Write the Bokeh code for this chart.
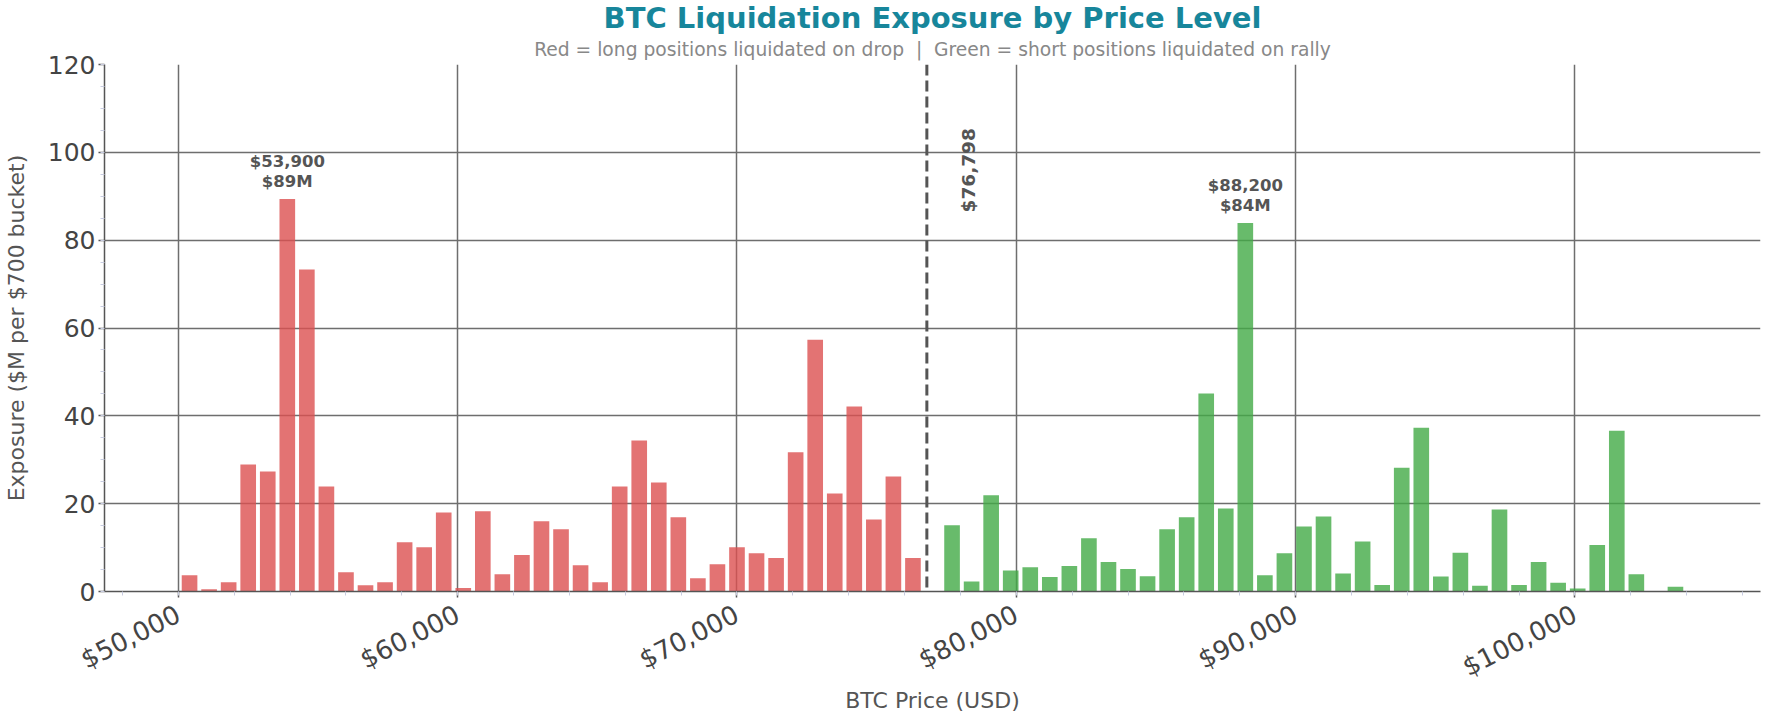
import math

from bokeh.core.properties import value
from bokeh.embed import file_html
from bokeh.models import (ColumnDataSource, Label, NumeralTickFormatter, Range1d,
                          SingleIntervalTicker, Span, Title)
from bokeh.plotting import figure
from bokeh.resources import INLINE

# Long liquidations below the current price (bucket centre, $M)
long_prices = [50400, 51100, 51800, 52500, 53200, 53900, 54600, 55300, 56000, 56700,
               57400, 58100, 58800, 59500, 60200, 60900, 61600, 62300, 63000, 63700,
               64400, 65100, 65800, 66500, 67200, 67900, 68600, 69300, 70000, 70700,
               71400, 72100, 72800, 73500, 74200, 74900, 75600, 76300]
long_values = [3.7, 0.5, 2.1, 28.9, 27.3, 89.4, 73.3, 23.9, 4.4, 1.4,
               2.1, 11.2, 10.1, 18.0, 0.8, 18.3, 3.9, 8.3, 16.0, 14.2,
               6.0, 2.1, 23.9, 34.4, 24.8, 16.9, 3.0, 6.2, 10.1, 8.7,
               7.6, 31.7, 57.3, 22.3, 42.1, 16.4, 26.2, 7.6]

# Short liquidations above the current price
short_prices = [77700, 78400, 79100, 79800, 80500, 81200, 81900, 82600, 83300, 84000,
                84700, 85400, 86100, 86800, 87500, 88200, 88900, 89600, 90300, 91000,
                91700, 92400, 93100, 93800, 94500, 95200, 95900, 96600, 97300, 98000,
                98700, 99400, 100100, 100800, 101500, 102200, 103600]
short_values = [15.1, 2.3, 21.9, 4.8, 5.5, 3.3, 5.8, 12.1, 6.7, 5.1,
                3.5, 14.2, 16.9, 45.1, 18.9, 83.9, 3.7, 8.7, 14.8, 17.1,
                4.1, 11.4, 1.5, 28.2, 37.3, 3.4, 8.8, 1.3, 18.7, 1.5,
                6.7, 2.0, 0.7, 10.6, 36.6, 3.9, 1.1]

current_price = 76798
bucket = 700

FONT = "DejaVu Sans"
TEXT = "#555555"

p = figure(
    frame_width=1656, frame_height=527,
    x_range=Range1d(47355, 106645), y_range=Range1d(0, 120),
    title="BTC Liquidation Exposure by Price Level",
    output_backend="svg", toolbar_location=None,
)
p.title.align = "center"
p.title.text_font = FONT
p.title.text_font_size = "29px"
p.title.text_color = "#17869b"
p.title.standoff = -4
p.add_layout(Title(text="Red = long positions liquidated on drop \u00a0|\u00a0 Green = short positions liquidated on rally",
                   align="center", text_font=FONT, text_font_size="18.7px",
                   text_font_style="normal", text_color="#888888", standoff=9), "above")

p.outline_line_color = None
p.background_fill_color = "white"
p.border_fill_color = "white"

p.vbar(x="x", top="top", width=bucket * 0.8,
       source=ColumnDataSource(dict(x=long_prices, top=long_values)),
       fill_color="#dc5050", fill_alpha=0.8, line_color=None)
p.vbar(x="x", top="top", width=bucket * 0.8,
       source=ColumnDataSource(dict(x=short_prices, top=short_values)),
       fill_color="#42aa46", fill_alpha=0.8, line_color=None)

# current price marker
p.add_layout(Span(location=current_price, dimension="height", line_color=TEXT,
                  line_width=3, line_dash="11 5"))
p.add_layout(Label(x=current_price + 1500, y=105.5, text=f"${current_price:,}",
                   angle=math.pi / 2, text_align="right", text_baseline="middle",
                   text_font=FONT, text_font_size="18.5px", text_font_style="bold",
                   text_color=TEXT))

# peak annotations
for prices, vals in [(long_prices, long_values), (short_prices, short_values)]:
    i = vals.index(max(vals))
    p.add_layout(Label(x=prices[i], y=vals[i], y_offset=8,
                       text=f"${prices[i]:,}\n${vals[i]:.0f}M",
                       text_align="center", text_baseline="bottom",
                       text_font=FONT, text_font_size="16.5px", text_font_style="bold",
                       text_line_height=1.05, text_color=TEXT))

p.xaxis.ticker = SingleIntervalTicker(interval=10000, num_minor_ticks=5)
p.yaxis.ticker = SingleIntervalTicker(interval=20, num_minor_ticks=4)
p.xaxis.formatter = NumeralTickFormatter(format="$0,0")
p.xaxis.major_label_orientation = math.radians(27)
p.xaxis.axis_label = "BTC Price (USD)"
p.yaxis.axis_label = "Exposure ($M per $700 bucket)"

for ax in (p.xaxis, p.yaxis):
    ax.axis_line_color = TEXT
    ax.axis_line_width = 1.5
    ax.major_tick_line_color = TEXT
    ax.major_tick_line_width = 1.5
    ax.major_tick_out = 6
    ax.major_tick_in = 0
    ax.minor_tick_line_color = "#c8cce0"
    ax.minor_tick_out = 4
    ax.minor_tick_in = 0
    ax.major_label_text_font = FONT
    ax.major_label_text_color = "#444444"
    ax.axis_label_text_font = FONT
    ax.axis_label_text_font_size = "22px"
    ax.axis_label_text_font_style = "normal"
    ax.axis_label_text_color = TEXT
p.yaxis.major_label_text_font_size = "25px"
p.xaxis.major_label_text_font_size = "26px"
p.yaxis.major_label_standoff = 3
p.yaxis.axis_label_standoff = 16
p.xaxis.major_label_standoff = 15
p.xaxis.axis_label_standoff = -11

for g in (p.xgrid, p.ygrid):
    g.grid_line_color = "#6e6e6e"
    g.grid_line_width = 1.5

open("out.html", "w").write(file_html(p, INLINE))
